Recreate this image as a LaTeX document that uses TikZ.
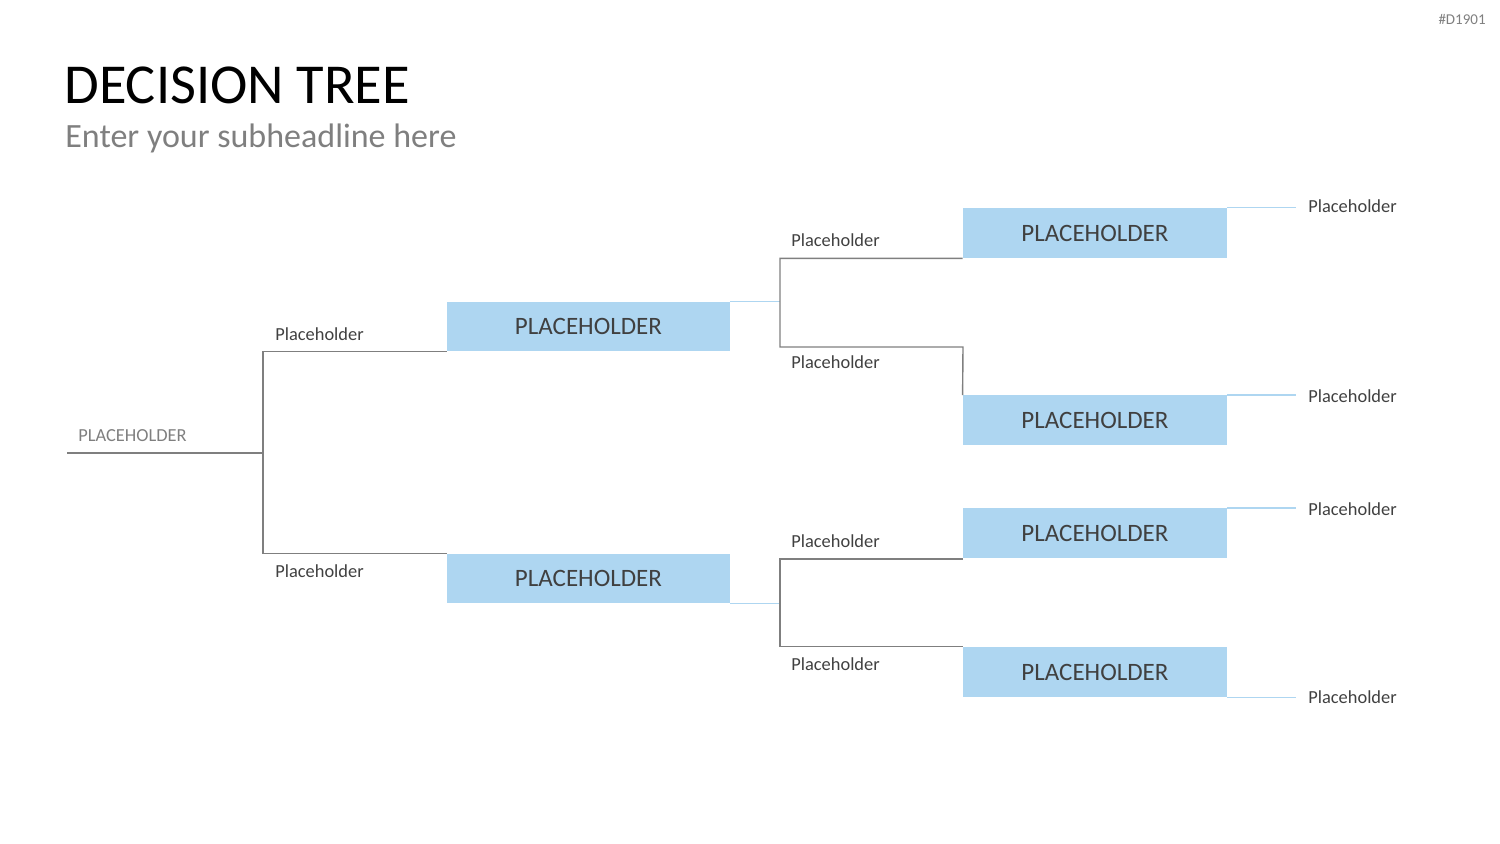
\documentclass[tikz,border=0pt]{standalone}
\usepackage{fontspec}
\setmainfont{Carlito}
\definecolor{boxblue}{HTML}{AED6F1}
\definecolor{linegray}{HTML}{7F7F7F}
\definecolor{textdark}{HTML}{404040}
\begin{document}
\begin{tikzpicture}[x=0.5pt, y=-0.5pt,
  leaf/.style={fill=boxblue, draw=none, minimum width=132pt, minimum height=25pt, inner sep=0pt, font=\fontsize{12.5}{14}\selectfont, text=textdark},
  midbox/.style={leaf, minimum width=141.5pt, minimum height=24.5pt},
  lbl/.style={inner sep=0pt, anchor=base west, font=\fontsize{9.2}{11}\selectfont, text=textdark},
  grayline/.style={draw=linegray, line width=0.7pt},
  blueline/.style={draw=boxblue, line width=0.7pt}]
  \useasboundingbox (0,0) rectangle (1500,844);
  % headings
  \node[inner sep=0pt, anchor=base west, font=\fontsize{28.2}{32}\selectfont] (title) at (64,104) {DECISION TREE};
  \node[inner sep=0pt, anchor=base west, font=\fontsize{17}{20}\selectfont, text=linegray] (sub) at (65,148) {Enter your subheadline here};
  \node[inner sep=0pt, anchor=base east, font=\fontsize{7.5}{8}\selectfont, text=linegray] (code) at (1486,25) {\#D1901};
  % boxes
  \node[midbox] (m1) at (588.5,326.5) {PLACEHOLDER};
  \node[midbox] (m2) at (588.5,578.5) {PLACEHOLDER};
  \node[leaf] (r1) at (1095,233) {PLACEHOLDER};
  \node[leaf] (r2) at (1095,420.5) {PLACEHOLDER};
  \node[leaf] (r3) at (1095,533.5) {PLACEHOLDER};
  \node[leaf] (r4) at (1095,672) {PLACEHOLDER};
  % bends
  \coordinate (root) at (67,453);
  \coordinate (j0) at (263,453);
  \coordinate (j1) at (780,302);
  \coordinate (k1) at (963,347);
  \coordinate (j2) at (780,603);
  \coordinate (o1) at (1296,208);
  \coordinate (o2) at (1296,396);
  \coordinate (o3) at (1296,509);
  \coordinate (o4) at (1296,697);
  % branches
  \draw[grayline] (root) -- (j0) |- (m1.south west);
  \draw[grayline] (j0) |- (m2.north west);
  \draw[blueline] (m1.north east) -- (j1 |- m1.north east);
  \draw[grayline] (r1.south west) -| (j1) |- (k1) -- (r2.north west);
  \draw[blueline] (m2.south east) -- (j2 |- m2.south east);
  \draw[grayline] (r3.south west) -| (j2) |- (r4.north west);
  \draw[blueline] (r1.north east) -- (o1 |- r1.north east);
  \draw[blueline] (r2.north east) -- (o2 |- r2.north east);
  \draw[blueline] (r3.north east) -- (o3 |- r3.north east);
  \draw[blueline] (r4.south east) -- (o4 |- r4.south east);
  % labels
  \node[lbl, text=linegray] (l0) at (78,442) {PLACEHOLDER};
  \node[lbl] (l1) at (275,341) {Placeholder};
  \node[lbl] (l2) at (275,577) {Placeholder};
  \node[lbl] (l3) at (791,247) {Placeholder};
  \node[lbl] (l4) at (791,369) {Placeholder};
  \node[lbl] (l5) at (791,548) {Placeholder};
  \node[lbl] (l6) at (791,670) {Placeholder};
  \node[lbl] (l7) at (1308,213) {Placeholder};
  \node[lbl] (l8) at (1308,403) {Placeholder};
  \node[lbl] (l9) at (1308,516) {Placeholder};
  \node[lbl] (l10) at (1308,703) {Placeholder};
\end{tikzpicture}
\end{document}
